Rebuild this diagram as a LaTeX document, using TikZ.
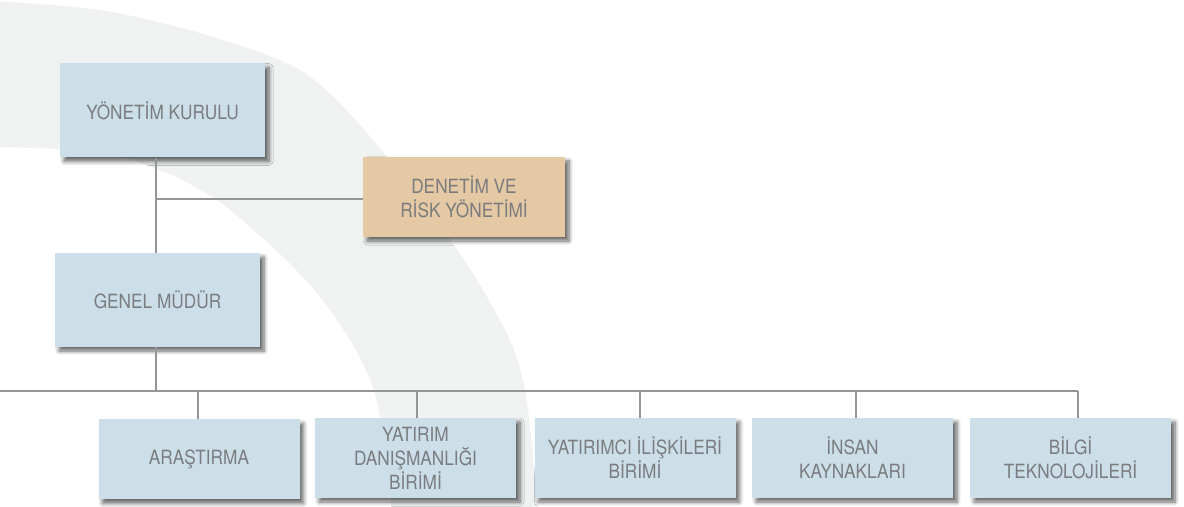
\documentclass[tikz,border=0pt]{standalone}
\usepackage{fontspec}
\setmainfont{TeX Gyre Heros}[FakeStretch=0.88]
\usetikzlibrary{shadows.blur}
\definecolor{boxblue}{HTML}{CCDFE9}
\definecolor{boxtan}{HTML}{E5C8A4}
\definecolor{bandgray}{HTML}{F0F2F2}
\definecolor{linegray}{HTML}{939598}
\definecolor{txtgray}{HTML}{7A7C7F}
\begin{document}
\begin{tikzpicture}[x=0.5pt,y=-0.5pt,
  orgbox/.style={fill=boxblue, inner sep=0pt, align=center, text=txtgray,
    font=\fontsize{9.8}{12}\selectfont,
    blur shadow={shadow xshift=2pt, shadow yshift=-2pt, shadow blur steps=6,
      shadow blur radius=2pt, shadow opacity=60}},
  topbox/.style={orgbox, minimum width=102.5pt, minimum height=47pt},
  tanbox/.style={orgbox, fill=boxtan, minimum width=101pt, minimum height=40pt},
  botbox/.style={orgbox, minimum width=100.5pt, minimum height=40pt},
  conn/.style={draw=linegray, line width=1.1pt}]
\useasboundingbox (0,0) rectangle (1184,507);
\begin{scope}
\clip (0,0) rectangle (1184,507);
\fill[bandgray] plot[smooth] coordinates {(-5,1) (100,10) (200,33) (300,70) (367,133) (450,240) (483,290) (510,340) (523,380) (530,427) (538,512)}
  -- plot[smooth] coordinates {(392,512) (380,417) (370,380) (350,340) (317,293) (283,257) (250,227) (217,200) (167,173) (100,152) (-5,147)} -- cycle;
\end{scope}
% nodes
\node[topbox] (yk) at (162.5,110.5) {YÖNETİM KURULU};
\node[tanbox] (dr) at (464,197) {DENETİM VE\\RİSK YÖNETİMİ};
\node[topbox] (gm) at (157.5,300) {GENEL MÜDÜR};
\node[botbox] (b1) at (199,459.5) {ARAŞTIRMA};
\node[botbox] (b2) at (415.5,458) {YATIRIM\\DANIŞMANLIĞI\\BİRİMİ};
\node[botbox] (b3) at (635,458) {YATIRIMCI İLİŞKİLERİ\\BİRİMİ};
\node[botbox] (b4) at (852.5,458) {İNSAN\\KAYNAKLARI};
\node[botbox] (b5) at (1070.5,458) {BİLGİ\\TEKNOLOJİLERİ};
% connectors
\coordinate (sx) at (156,0);
\coordinate (dj) at (156,199);
\coordinate (busL) at (0,391);
\coordinate (busR) at (1078,391);
\coordinate (d1) at (198,391);
\coordinate (d2) at (417,391);
\coordinate (d3) at (640,391);
\coordinate (d4) at (856,391);
\coordinate (d5) at (1078,391);
\draw[conn] (yk.south -| sx) -- (gm.north -| sx);
\draw[conn] (dj) -- (dj -| dr.west);
\draw[conn] (gm.south -| sx) -- (sx |- busL);
\draw[conn] (busL) -- (busR);
\draw[conn] (d1) -- (d1 |- b1.north);
\draw[conn] (d2) -- (d2 |- b2.north);
\draw[conn] (d3) -- (d3 |- b3.north);
\draw[conn] (d4) -- (d4 |- b4.north);
\draw[conn] (d5) -- (d5 |- b5.north);
\end{tikzpicture}
\end{document}
